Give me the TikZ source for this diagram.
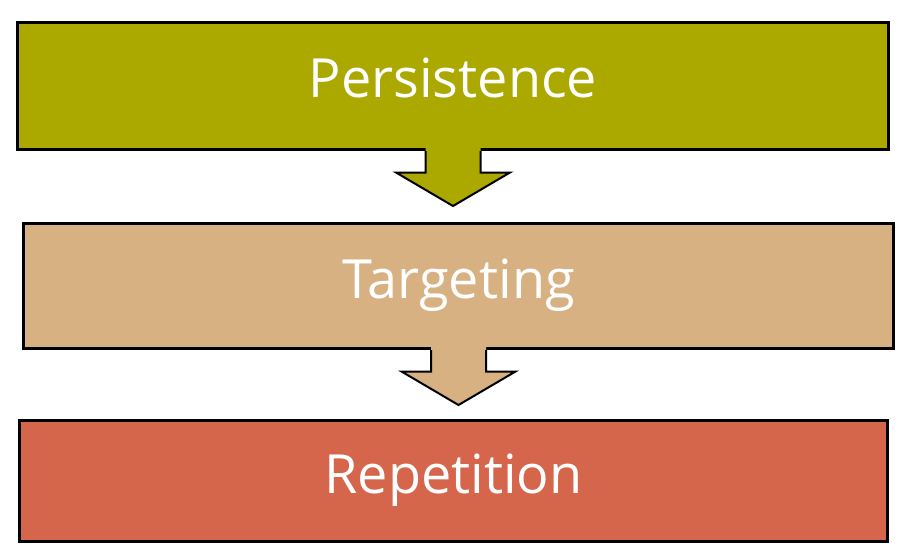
\documentclass[tikz,border=0pt]{standalone}
\usepackage{fontspec}
\setmainfont{Open Sans}
\usepackage{tikz}
\usetikzlibrary{calc}

\definecolor{persistcol}{RGB}{171,168,0}
\definecolor{targetcol}{RGB}{216,177,130}
\definecolor{repeatcol}{RGB}{213,101,75}

\tikzset{
    stage/.style={draw=black, line width=3pt, inner sep=0pt, outer sep=0pt,
        text=white, font=\fontsize{54}{62}\selectfont,
        text height=40pt, text depth=16pt},
    blockarrow/.style={draw=black, line width=2pt, line join=miter}
}

\begin{document}
\begin{tikzpicture}[x=1pt, y=-1pt]
    \useasboundingbox (0, 0) rectangle (915, 559);

    \def\sw{27.5}
    \def\hw{57}
    \def\nk{23}
    \def\tp{56.5}

    % the three stages
    \node[stage, fill=persistcol, minimum width=871pt, minimum height=127pt] (per) at (453, 86) {Persistence};
    \node[stage, fill=targetcol, minimum width=870pt, minimum height=125pt] (tar) at (458.5, 286) {Targeting};
    \node[stage, fill=repeatcol, minimum width=868pt, minimum height=121pt] (rep) at (453.5, 481) {Repetition};

    % block arrows below each stage
    \foreach \up/\col in {per/persistcol, tar/targetcol} {
        \fill[\col] ($(\up.south)+(-\sw, -2.5)$) -- ($(\up.south)+(-\sw, \nk)$) -- ($(\up.south)+(-\hw, \nk)$)
            -- ($(\up.south)+(0, \tp)$) -- ($(\up.south)+(\hw, \nk)$) -- ($(\up.south)+(\sw, \nk)$)
            -- ($(\up.south)+(\sw, -2.5)$) -- cycle;
        \draw[blockarrow] ($(\up.south)+(-\sw, 1.5)$) -- ($(\up.south)+(-\sw, \nk)$) -- ($(\up.south)+(-\hw, \nk)$)
            -- ($(\up.south)+(0, \tp)$) -- ($(\up.south)+(\hw, \nk)$) -- ($(\up.south)+(\sw, \nk)$)
            -- ($(\up.south)+(\sw, 1.5)$);
    }
\end{tikzpicture}
\end{document}
